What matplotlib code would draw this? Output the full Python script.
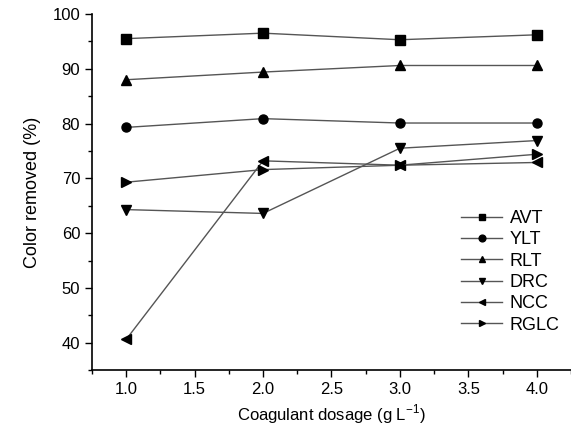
import matplotlib
matplotlib.use('Agg')
import matplotlib.pyplot as plt
from matplotlib.ticker import MultipleLocator

plt.rcParams['font.family'] = ['Liberation Sans', 'DejaVu Sans']
plt.rcParams['mathtext.fontset'] = 'custom'
plt.rcParams['mathtext.rm'] = 'Liberation Sans'

dosage = [1.0, 2.0, 3.0, 4.0]
avt = [95.5, 96.5, 95.3, 96.2]
ylt = [79.3, 80.9, 80.1, 80.1]
rlt = [88.0, 89.4, 90.6, 90.6]
drc = [64.3, 63.6, 75.5, 76.9]
ncc = [40.6, 73.2, 72.4, 72.9]
rglc = [69.3, 71.6, 72.4, 74.4]

series = [("AVT", avt, "s"), ("YLT", ylt, "o"), ("RLT", rlt, "^"),
          ("DRC", drc, "v"), ("NCC", ncc, "<"), ("RGLC", rglc, ">")]

fig = plt.figure(figsize=(5.71, 4.37), dpi=100)
ax = fig.add_axes([0.161, 0.153, 0.839, 0.815])

for name, vals, mk in series:
    ax.plot(dosage, vals, marker=mk, color="#555555", linewidth=1.0,
            markerfacecolor="black", markeredgecolor="black", markersize=6.5,
            label=name)

ax.set_xlim(0.75, 4.25)
ax.set_ylim(35, 100)
ax.xaxis.set_major_locator(MultipleLocator(0.5))
ax.xaxis.set_minor_locator(MultipleLocator(0.25))
ax.yaxis.set_minor_locator(MultipleLocator(5))
ax.set_yticks([40, 50, 60, 70, 80, 90, 100])
ax.tick_params(which="major", direction="out", length=5, width=1, labelsize=12)
ax.tick_params(which="minor", direction="out", length=3, width=1)
for s in ["top", "right"]:
    ax.spines[s].set_visible(False)
for s in ["left", "bottom"]:
    ax.spines[s].set_linewidth(1.2)

ax.set_xlabel("Coagulant dosage (g L$^{-1}$)", fontsize=12, labelpad=4)
ax.set_ylabel("Color removed (%)", fontsize=13, labelpad=8)

ax.legend(loc="upper left", bbox_to_anchor=(0.755, 0.47), frameon=False,
          fontsize=13, handlelength=2.3, labelspacing=0.24, handletextpad=0.4,
          borderaxespad=0, markerscale=0.75)

plt.savefig("out.png", dpi=100)
plt.close()
